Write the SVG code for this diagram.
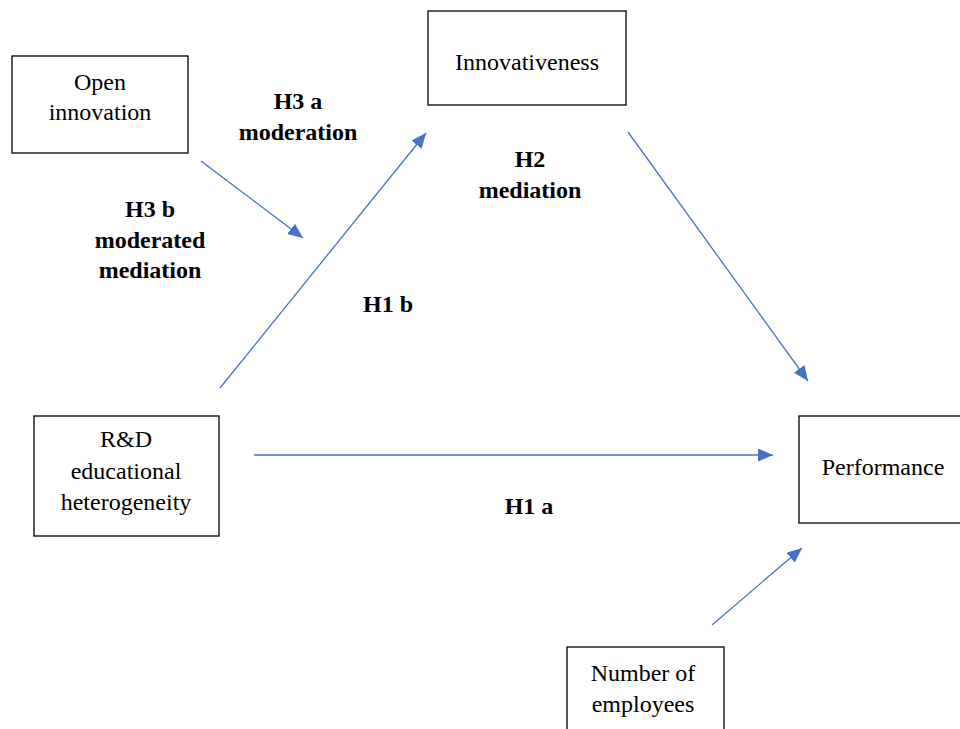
<svg xmlns="http://www.w3.org/2000/svg" width="960" height="729" viewBox="0 0 960 729">
<style>
.box{fill:#fff;stroke:#000;stroke-width:1.3}
.t{font-family:'Liberation Serif','Times New Roman',Times,serif;font-size:24px;fill:#000;text-anchor:middle}
.b{font-weight:bold}
.c{stroke:#4472C4;stroke-width:1.3;fill:none;marker-end:url(#ah)}
</style>
<defs>
<marker id="ah" markerUnits="userSpaceOnUse" markerWidth="16" markerHeight="13" refX="15" refY="6.5" orient="auto">
<path d="M0,0 L15,6.5 L0,13 z" fill="#4472C4"/>
</marker>
</defs>
<rect width="960" height="729" fill="#fff"/>
<g id="open-innovation">
<rect class="box" x="12" y="56" width="176" height="97"/>
<text class="t" x="100" y="90">Open</text>
<text class="t" x="100" y="120">innovation</text>
</g>
<g id="innovativeness">
<rect class="box" x="428" y="11" width="198" height="94"/>
<text class="t" x="527" y="70">Innovativeness</text>
</g>
<g id="performance">
<rect class="box" x="799" y="416" width="170" height="107"/>
<text class="t" x="883" y="475">Performance</text>
</g>
<g id="rd">
<rect class="box" x="34" y="416" width="185" height="120"/>
<text class="t" x="126" y="447">R&amp;D</text>
<text class="t" x="126" y="479">educational</text>
<text class="t" x="126" y="510">heterogeneity</text>
</g>
<g id="employees">
<rect class="box" x="567" y="647" width="157" height="90"/>
<text class="t" x="643" y="681">Number of</text>
<text class="t" x="643" y="712">employees</text>
</g>
<g id="connectors">
<line class="c" x1="201" y1="161" x2="303" y2="238"/>
<line class="c" x1="220" y1="388" x2="426" y2="133"/>
<line class="c" x1="628" y1="132" x2="808" y2="381"/>
<line class="c" x1="254" y1="455" x2="773" y2="455"/>
<line class="c" x1="712" y1="625" x2="802" y2="548"/>
</g>
<g id="labels">
<text class="t b" x="298" y="109">H3 a</text>
<text class="t b" x="298" y="140">moderation</text>
<text class="t b" x="150" y="217">H3 b</text>
<text class="t b" x="150" y="248">moderated</text>
<text class="t b" x="150" y="278">mediation</text>
<text class="t b" x="530" y="167">H2</text>
<text class="t b" x="530" y="198">mediation</text>
<text class="t b" x="388" y="312">H1 b</text>
<text class="t b" x="529" y="514">H1 a</text>
</g>
</svg>
